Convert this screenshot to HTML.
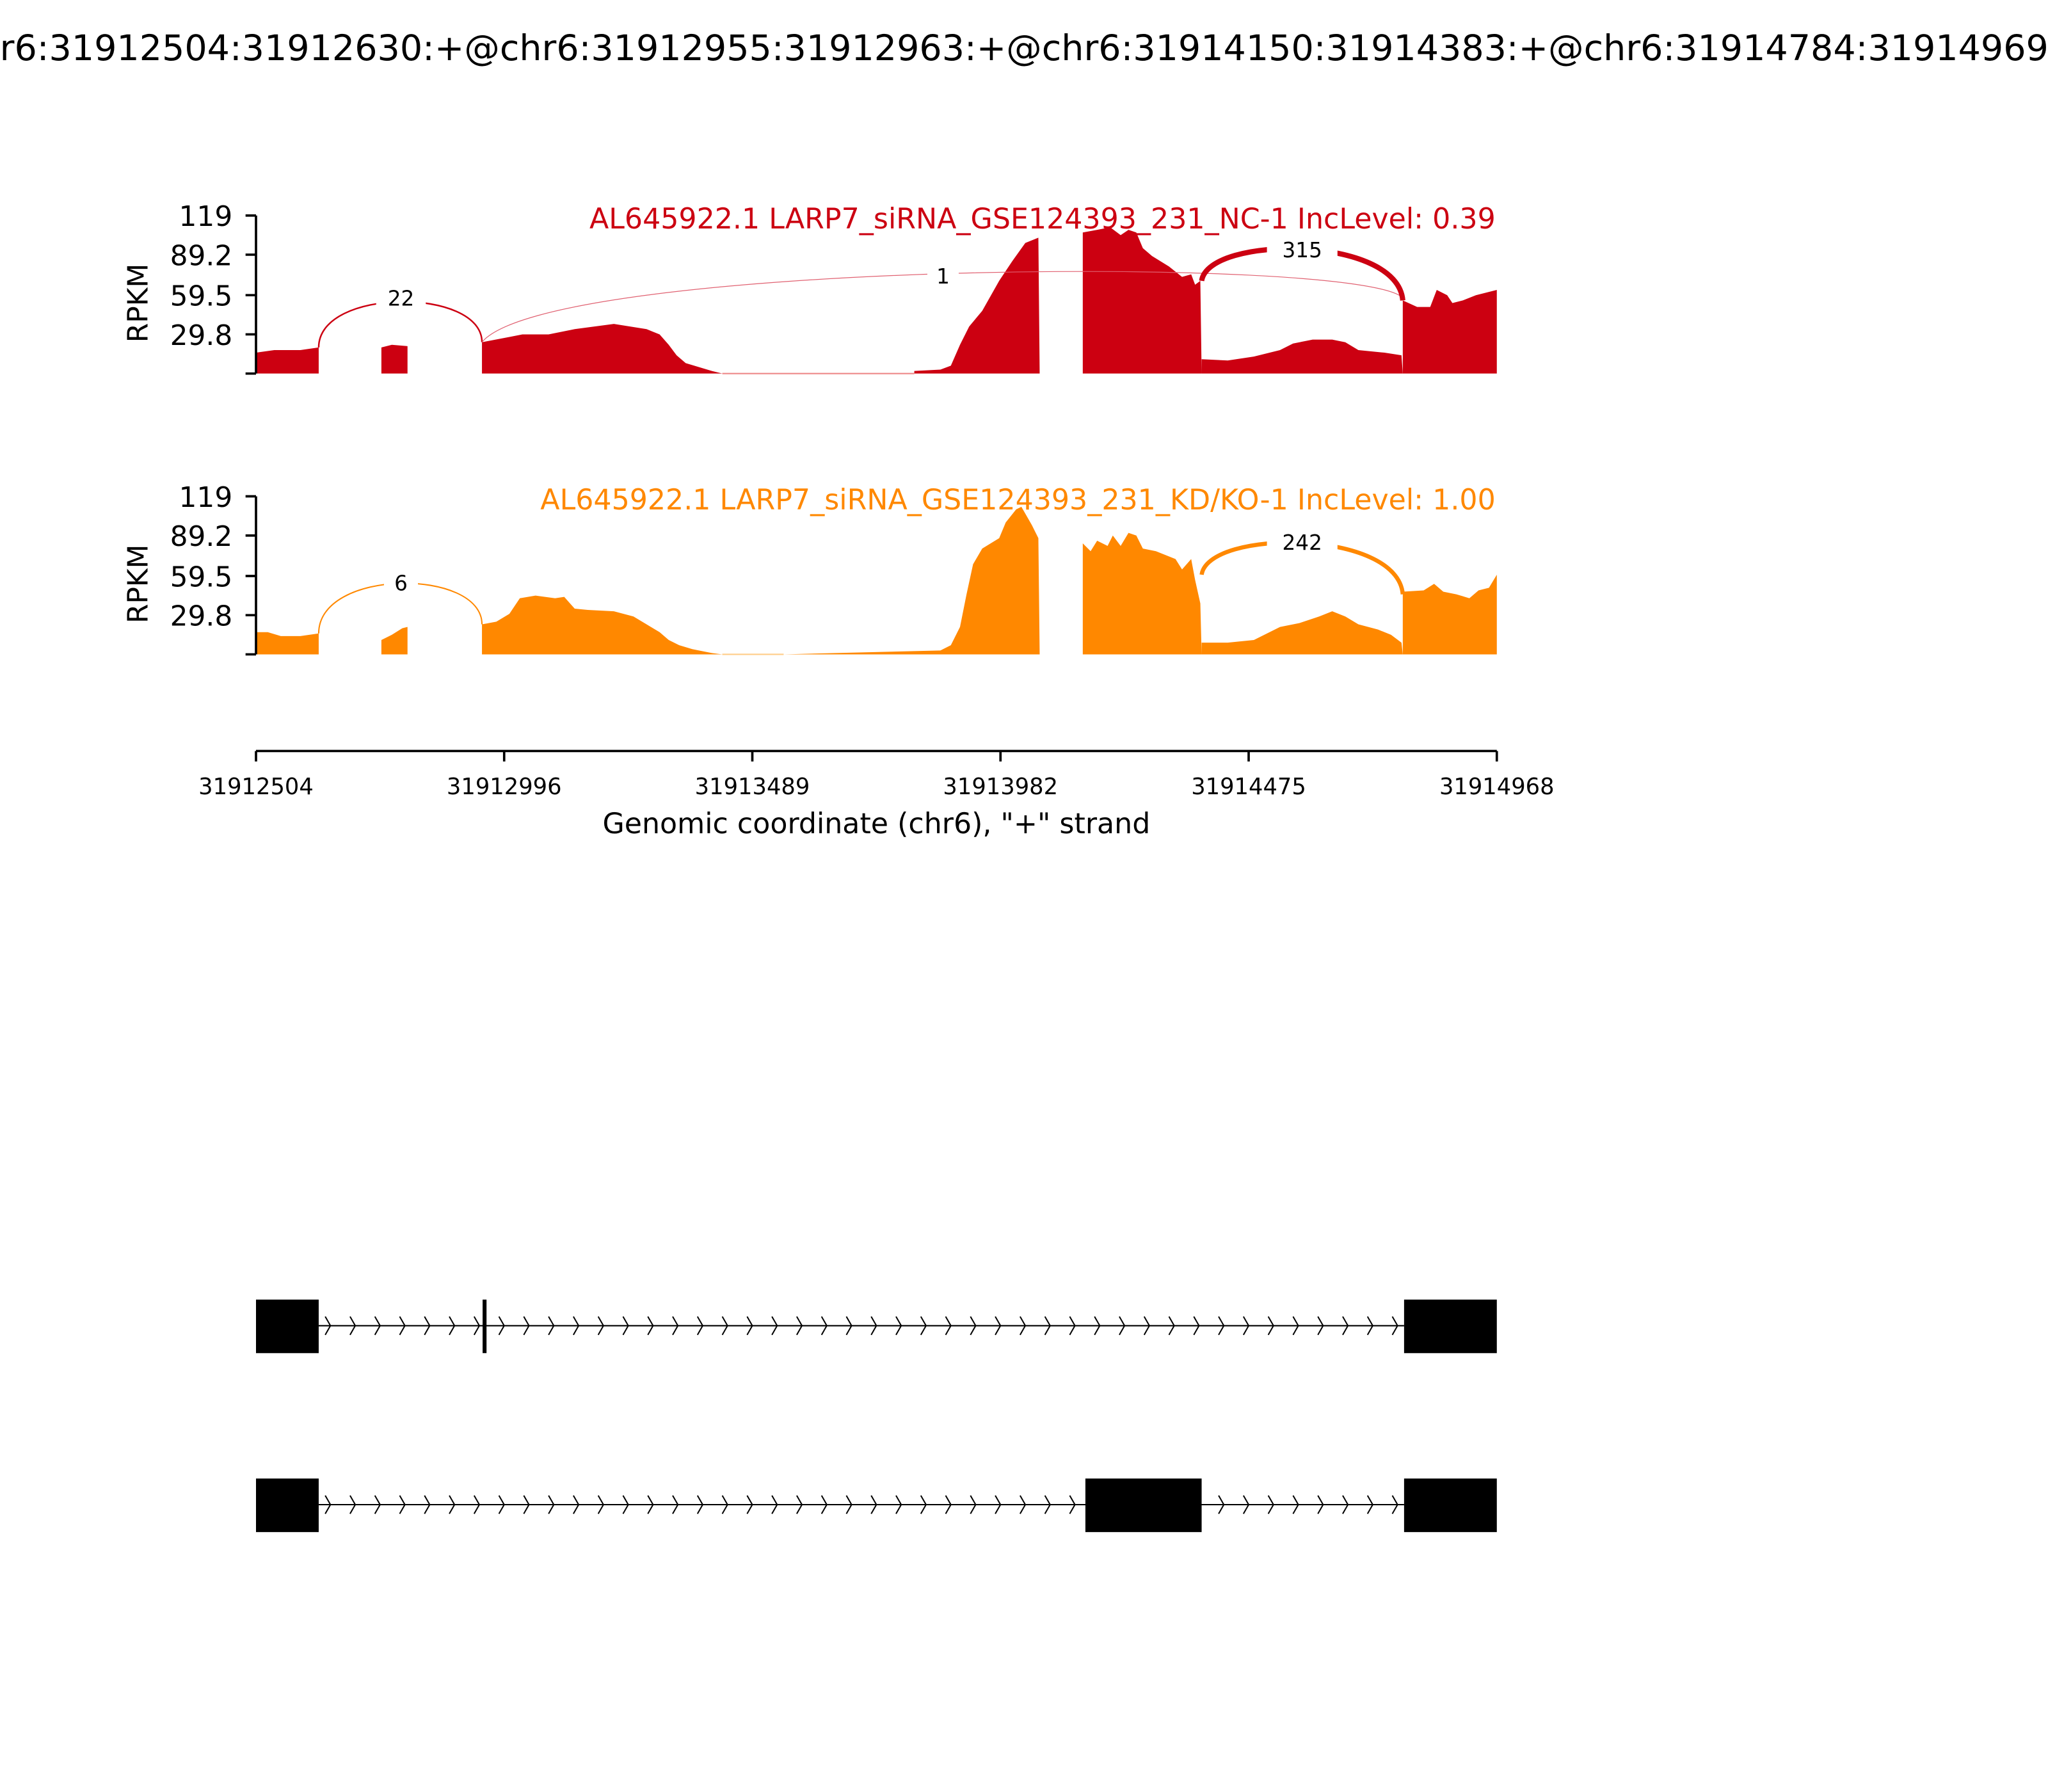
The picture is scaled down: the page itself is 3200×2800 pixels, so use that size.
<!DOCTYPE html>
<html><head><meta charset="utf-8"><style>
html,body{margin:0;padding:0;background:#fff;}
svg{display:block;font-family:"DejaVu Sans","Liberation Sans",sans-serif;}
</style></head><body>
<svg width="3200" height="2800" viewBox="0 0 1568 1372" xmlns="http://www.w3.org/2000/svg">
<rect width="1568" height="1372" fill="#fff"/>
<text x="784" y="46" font-size="27.2" text-anchor="middle">chr6:31912504:31912630:+@chr6:31912955:31912963:+@chr6:31914150:31914383:+@chr6:31914784:31914969:+</text>

<!-- top panel -->
<g fill="#cc0011">
<polygon points="196,286 196,270 210,268 230,268 244,266 244,286"/>
<polygon points="292,286 292,266 300,264 312,265 312,286"/>
<polygon points="369,286 369,262 390,258 400,256 420,256 440,252 470,248 495,252 505,256 512,264 518,272 525,278 535,281 545,284 553,286"/>
<polygon points="700,286 700,284 720,283 728,280 735,264 742,250 752,238 765,215 775,200 785,186 795,182 796,286"/>
<polygon points="829,286 829,178 840,176 850,174 858,180 864,176 870,178 875,190 882,196 895,204 905,212 912,210 915,218 919,215 920,286"/>
<polygon points="920,286 920,275 940,276 960,273 980,268 990,263 1005,260 1020,260 1030,262 1040,268 1060,270 1073,272 1074,286"/>
<polygon points="1074,286 1074,230 1085,235 1095,235 1100,222 1108,226 1112,232 1120,230 1130,226 1146,222 1146,286"/>
</g>
<line x1="553" y1="286" x2="700" y2="286" stroke="#e88" stroke-width="1"/>
<path d="M244,266 C244,220 369,220 369,262" fill="none" stroke="#cc0011" stroke-width="1.2"/>
<path d="M369,262 C420,200 1040,195 1074,228" fill="none" stroke="#e06070" stroke-width="0.6"/>
<path d="M920,215 C925,180 1070,180 1074,230" fill="none" stroke="#cc0011" stroke-width="4"/>
<rect x="288" y="217" width="38" height="22" fill="#fff"/>
<text x="307" y="234" font-size="16" text-anchor="middle">22</text>
<rect x="710" y="200" width="24" height="22" fill="#fff"/>
<text x="722" y="217" font-size="16" text-anchor="middle">1</text>
<rect x="970" y="179" width="54" height="24" fill="#fff"/>
<text x="997" y="197" font-size="16" text-anchor="middle">315</text>
<text x="1145" y="175" font-size="21.7" fill="#cc0011" text-anchor="end">AL645922.1 LARP7_siRNA_GSE124393_231_NC-1 IncLevel: 0.39</text>
<g stroke="#000" stroke-width="1.8">
<line x1="196" y1="165" x2="196" y2="286"/>
<line x1="188" y1="165" x2="196" y2="165"/><line x1="188" y1="195" x2="196" y2="195"/>
<line x1="188" y1="226" x2="196" y2="226"/><line x1="188" y1="256" x2="196" y2="256"/>
<line x1="188" y1="286" x2="196" y2="286"/>
</g>
<g font-size="21.5" text-anchor="end">
<text x="178" y="173">119</text><text x="178" y="203">89.2</text><text x="178" y="234">59.5</text><text x="178" y="264">29.8</text>
</g>
<text transform="translate(113,232) rotate(-90)" font-size="21.5" text-anchor="middle">RPKM</text>

<!-- bottom panel -->
<g fill="#ff8800">
<polygon points="196,501 196,484 205,484 215,487 230,487 244,485 244,501"/>
<polygon points="292,501 292,490 300,486 308,481 312,480 312,501"/>
<polygon points="369,501 369,478 380,476 390,470 398,458 410,456 425,458 432,457 440,466 450,467 470,468 485,472 495,478 505,484 512,490 520,494 530,497 545,500 553,501"/>
<polygon points="600,501 640,500 680,499 720,498 728,494 735,480 740,455 745,432 752,420 765,412 770,400 778,390 782,388 790,402 795,412 796,501"/>
<polygon points="829,501 829,416 835,422 840,414 848,418 852,410 858,418 864,408 870,410 875,420 885,422 900,428 905,436 912,428 915,444 919,462 920,501"/>
<polygon points="920,501 920,492 940,492 960,490 980,480 995,477 1010,472 1020,468 1030,472 1040,478 1055,482 1065,486 1073,492 1074,501"/>
<polygon points="1074,501 1074,453 1090,452 1098,447 1105,453 1115,455 1125,458 1132,452 1140,450 1146,440 1146,501"/>
</g>
<line x1="553" y1="501" x2="600" y2="501" stroke="#fc8" stroke-width="1"/>
<path d="M244,485 C244,435 369,435 369,478" fill="none" stroke="#ff8800" stroke-width="1"/>
<path d="M920,440 C925,405 1070,405 1074,455" fill="none" stroke="#ff8800" stroke-width="3.2"/>
<rect x="294" y="435" width="26" height="22" fill="#fff"/>
<text x="307" y="452" font-size="16" text-anchor="middle">6</text>
<rect x="970" y="403" width="54" height="24" fill="#fff"/>
<text x="997" y="421" font-size="16" text-anchor="middle">242</text>
<text x="1145" y="390" font-size="21.7" fill="#ff8800" text-anchor="end">AL645922.1 LARP7_siRNA_GSE124393_231_KD/KO-1 IncLevel: 1.00</text>
<g stroke="#000" stroke-width="1.8">
<line x1="196" y1="380" x2="196" y2="501"/>
<line x1="188" y1="380" x2="196" y2="380"/><line x1="188" y1="410" x2="196" y2="410"/>
<line x1="188" y1="441" x2="196" y2="441"/><line x1="188" y1="471" x2="196" y2="471"/>
<line x1="188" y1="501" x2="196" y2="501"/>
</g>
<g font-size="21.5" text-anchor="end">
<text x="178" y="388">119</text><text x="178" y="418">89.2</text><text x="178" y="449">59.5</text><text x="178" y="479">29.8</text>
</g>
<text transform="translate(113,447) rotate(-90)" font-size="21.5" text-anchor="middle">RPKM</text>

<!-- x axis -->
<g stroke="#000" stroke-width="1.8">
<line x1="196" y1="575" x2="1146" y2="575"/>
<line x1="196" y1="575" x2="196" y2="583"/><line x1="386" y1="575" x2="386" y2="583"/>
<line x1="576" y1="575" x2="576" y2="583"/><line x1="766" y1="575" x2="766" y2="583"/>
<line x1="956" y1="575" x2="956" y2="583"/><line x1="1146" y1="575" x2="1146" y2="583"/>
</g>
<g font-size="17.3" text-anchor="middle">
<text x="196" y="608">31912504</text><text x="386" y="608">31912996</text><text x="576" y="608">31913489</text>
<text x="766" y="608">31913982</text><text x="956" y="608">31914475</text><text x="1146" y="608">31914968</text>
</g>
<text x="671" y="638" font-size="21.7" text-anchor="middle">Genomic coordinate (chr6), "+" strand</text>

<!-- gene models -->
<line x1="244" y1="1015" x2="1075" y2="1015" stroke="#000" stroke-width="1"/>
<rect x="196" y="995" width="48" height="41" fill="#000"/>
<rect x="1075" y="995" width="71" height="41" fill="#000"/>
<line x1="371" y1="995" x2="371" y2="1036" stroke="#000" stroke-width="3"/>
<path fill="none" stroke="#000" stroke-width="1" d="
M249,1008 l4,7 l-4,7 M268,1008 l4,7 l-4,7 M287,1008 l4,7 l-4,7 M306,1008 l4,7 l-4,7 M325,1008 l4,7 l-4,7 M344,1008 l4,7 l-4,7 M363,1008 l4,7 l-4,7
M382,1008 l4,7 l-4,7 M401,1008 l4,7 l-4,7 M420,1008 l4,7 l-4,7 M439,1008 l4,7 l-4,7 M458,1008 l4,7 l-4,7 M477,1008 l4,7 l-4,7 M496,1008 l4,7 l-4,7
M515,1008 l4,7 l-4,7 M534,1008 l4,7 l-4,7 M553,1008 l4,7 l-4,7 M572,1008 l4,7 l-4,7 M591,1008 l4,7 l-4,7 M610,1008 l4,7 l-4,7 M629,1008 l4,7 l-4,7
M648,1008 l4,7 l-4,7 M667,1008 l4,7 l-4,7 M686,1008 l4,7 l-4,7 M705,1008 l4,7 l-4,7 M724,1008 l4,7 l-4,7 M743,1008 l4,7 l-4,7 M762,1008 l4,7 l-4,7
M781,1008 l4,7 l-4,7 M800,1008 l4,7 l-4,7 M819,1008 l4,7 l-4,7 M838,1008 l4,7 l-4,7 M857,1008 l4,7 l-4,7 M876,1008 l4,7 l-4,7 M895,1008 l4,7 l-4,7
M914,1008 l4,7 l-4,7 M933,1008 l4,7 l-4,7 M952,1008 l4,7 l-4,7 M971,1008 l4,7 l-4,7 M990,1008 l4,7 l-4,7 M1009,1008 l4,7 l-4,7 M1028,1008 l4,7 l-4,7
M1047,1008 l4,7 l-4,7 M1066,1008 l4,7 l-4,7"/>

<line x1="244" y1="1152" x2="1075" y2="1152" stroke="#000" stroke-width="1"/>
<rect x="196" y="1132" width="48" height="41" fill="#000"/>
<rect x="831" y="1132" width="89" height="41" fill="#000"/>
<rect x="1075" y="1132" width="71" height="41" fill="#000"/>
<path fill="none" stroke="#000" stroke-width="1" d="
M249,1145 l4,7 l-4,7 M268,1145 l4,7 l-4,7 M287,1145 l4,7 l-4,7 M306,1145 l4,7 l-4,7 M325,1145 l4,7 l-4,7 M344,1145 l4,7 l-4,7 M363,1145 l4,7 l-4,7
M382,1145 l4,7 l-4,7 M401,1145 l4,7 l-4,7 M420,1145 l4,7 l-4,7 M439,1145 l4,7 l-4,7 M458,1145 l4,7 l-4,7 M477,1145 l4,7 l-4,7 M496,1145 l4,7 l-4,7
M515,1145 l4,7 l-4,7 M534,1145 l4,7 l-4,7 M553,1145 l4,7 l-4,7 M572,1145 l4,7 l-4,7 M591,1145 l4,7 l-4,7 M610,1145 l4,7 l-4,7 M629,1145 l4,7 l-4,7
M648,1145 l4,7 l-4,7 M667,1145 l4,7 l-4,7 M686,1145 l4,7 l-4,7 M705,1145 l4,7 l-4,7 M724,1145 l4,7 l-4,7 M743,1145 l4,7 l-4,7 M762,1145 l4,7 l-4,7
M781,1145 l4,7 l-4,7 M800,1145 l4,7 l-4,7 M819,1145 l4,7 l-4,7
M933,1145 l4,7 l-4,7 M952,1145 l4,7 l-4,7 M971,1145 l4,7 l-4,7 M990,1145 l4,7 l-4,7 M1009,1145 l4,7 l-4,7 M1028,1145 l4,7 l-4,7
M1047,1145 l4,7 l-4,7 M1066,1145 l4,7 l-4,7"/>
</svg>
</body></html>
